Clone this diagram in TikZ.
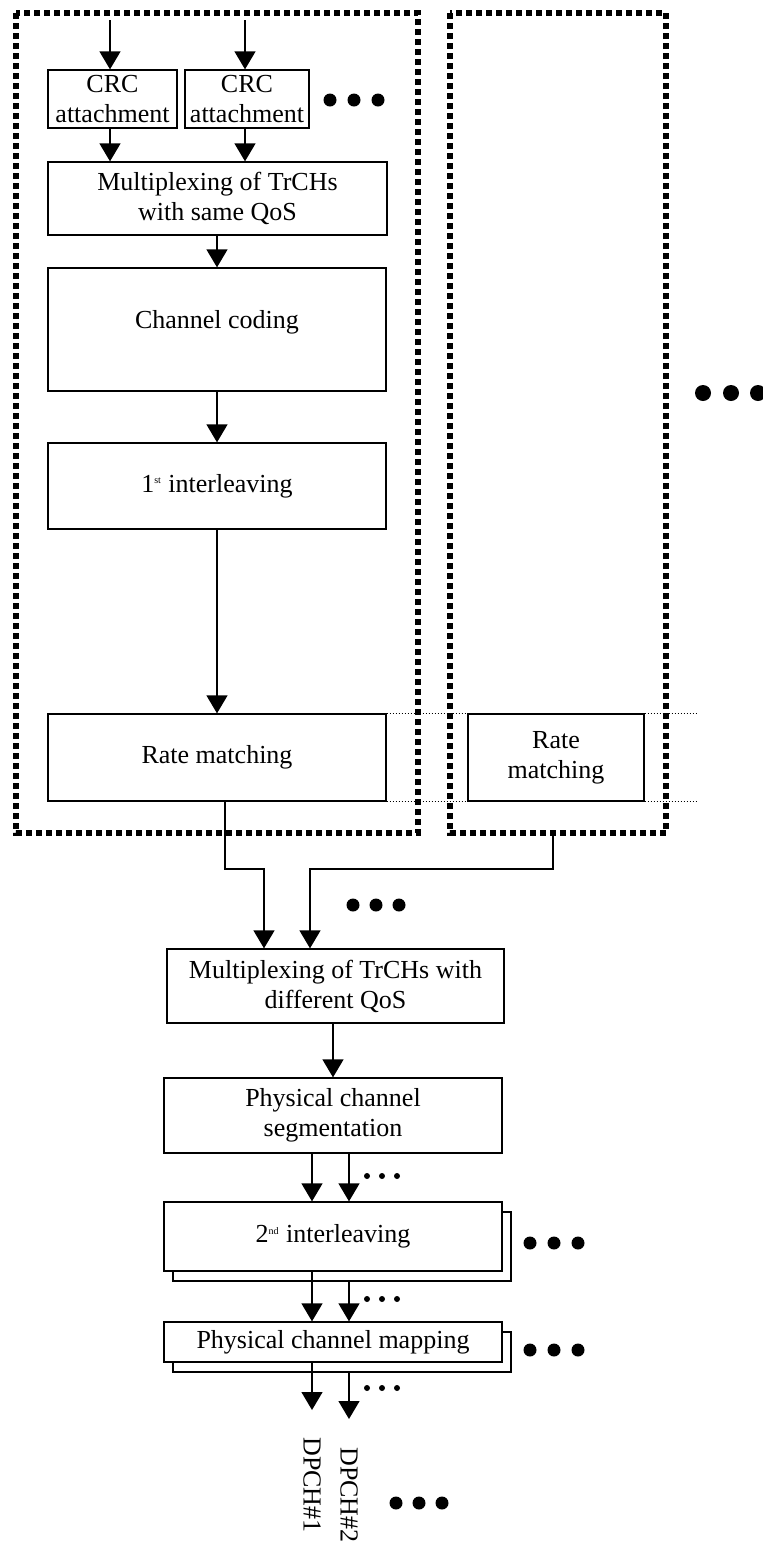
\documentclass[tikz,border=0pt]{standalone}
\usepackage{fontspec}
\setmainfont{Liberation Serif}
\usetikzlibrary{arrows.meta, shadows}

\begin{document}
\begin{tikzpicture}[x=0.5pt, y=-0.5pt,
    stage/.style = {draw, line width=0.65pt, fill=white, align=center, inner sep=1pt, font=\fontsize{13}{15}\selectfont},
    stack/.style = {copy shadow={shadow xshift=4.5pt, shadow yshift=-5pt, draw=black, fill=white, line width=0.65pt}},
    arr/.style = {line width=0.65pt, -{Triangle[length=9pt, width=10.5pt]}},
    frame/.style = {line width=2.75pt, dash pattern=on 3pt off 2pt},
    guide/.style = {line width=0.6pt, dash pattern=on 0.6pt off 0.9pt}]
    \useasboundingbox (0,0) rectangle (763,1544);

    % groups of transport channels
    \draw[frame] (16,13) rectangle (418,833);
    \draw[frame] (450,13) rectangle (666,833);

    \node[stage, minimum width=64.5pt, minimum height=29pt] (crcA) at (112.5,99) {CRC\\attachment};
    \node[stage, minimum width=62pt, minimum height=29pt] (crcB) at (247,99) {CRC\\attachment};
    \node[stage, minimum width=169.5pt, minimum height=36.5pt] (muxS) at (217.5,198.5) {Multiplexing of TrCHs\\with same QoS};
    \node[stage, minimum width=169pt, minimum height=61.5pt] (code) at (217,329.5) {Channel coding\\[-5pt]};
    \node[stage, minimum width=169pt, minimum height=43pt] (il1) at (217,486) {1\textsuperscript{\tiny st} interleaving};
    \node[stage, minimum width=169pt, minimum height=43.5pt] (rmA) at (217,757.5) {Rate matching};
    \node[stage, minimum width=88pt, minimum height=43.5pt] (rmB) at (556,757.5) {Rate\\matching};

    \node[stage, minimum width=168.5pt, minimum height=37pt] (muxD) at (335.5,986) {Multiplexing of TrCHs with\\different QoS};
    \node[stage, minimum width=169pt, minimum height=37.5pt] (seg) at (333,1115.5) {Physical channel\\segmentation};
    \node[stage, stack, minimum width=169pt, minimum height=34.5pt] (il2) at (333,1236.5) {2\textsuperscript{\tiny nd} interleaving};
    \node[stage, stack, minimum width=169pt, minimum height=20pt] (map) at (333,1342) {Physical channel mapping};

    \node[rotate=-90, anchor=west, inner sep=0pt, font=\fontsize{13}{15}\selectfont] (dpchA) at (312,1437) {DPCH\#1};
    \node[rotate=-90, anchor=west, inner sep=0pt, font=\fontsize{13}{15}\selectfont] (dpchB) at (349,1447) {DPCH\#2};

    \coordinate (inA) at (110,20);
    \coordinate (inB) at (245,20);
    \coordinate (outB) at (553,833);
    \coordinate (bendA) at (264,869);
    \coordinate (bendB) at (310,869);
    \coordinate (chA) at (312,0);
    \coordinate (chB) at (349,0);
    \coordinate (tipA) at (312,1410);
    \coordinate (tipB) at (349,1419);
    \coordinate (gEnd) at (698,0);

    \draw[arr] (inA) -- (inA |- crcA.north);
    \draw[arr] (inB) -- (inB |- crcB.north);
    \draw[arr] (crcA.south -| inA) -- (inA |- muxS.north);
    \draw[arr] (crcB.south -| inB) -- (inB |- muxS.north);
    \draw[arr] (muxS.south -| code.north) -- (code.north);
    \draw[arr] (code.south) -- (il1.north);
    \draw[arr] (il1.south) -- (rmA.north);

    % rate matching levels
    \draw[guide] (rmA.north east) -- (rmB.north west);
    \draw[guide] (rmA.south east) -- (rmB.south west);
    \draw[guide] (rmB.north east) -- (rmB.north east -| gEnd);
    \draw[guide] (rmB.south east) -- (rmB.south east -| gEnd);

    \draw[arr] ([xshift=4pt]rmA.south) |- (bendA) -- (bendA |- muxD.north);
    \draw[arr] (outB) |- (bendB) -- (bendB |- muxD.north);
    \draw[arr] (muxD.south -| seg.north) -- (seg.north);

    \draw[arr] (seg.south -| chA) -- (il2.north -| chA);
    \draw[arr] (seg.south -| chB) -- (il2.north -| chB);
    \draw[arr] (il2.south -| chA) -- (map.north -| chA);
    \draw[arr] ([yshift=-5pt]il2.south -| chB) -- (map.north -| chB);
    \draw[arr] (map.south -| chA) -- (tipA);
    \draw[arr] ([yshift=-4.5pt]map.south -| chB) -- (tipB);

    % ellipses
    \foreach \x in {330,354,378} \fill (\x,100) circle[radius=3.25pt];
    \foreach \x in {703,731,758} \fill (\x,393) circle[radius=4pt];
    \foreach \x in {353,376,399} \fill (\x,905) circle[radius=3.25pt];
    \foreach \x in {530,554,578} \fill (\x,1243) circle[radius=3.25pt];
    \foreach \x in {530,554,578} \fill (\x,1350) circle[radius=3.25pt];
    \foreach \x in {396,419,442} \fill (\x,1503) circle[radius=3.25pt];
    \foreach \y in {1176,1299,1388} {
        \foreach \x in {367,382,397} \fill (\x,\y) circle[radius=1.5pt];
    }
\end{tikzpicture}
\end{document}
